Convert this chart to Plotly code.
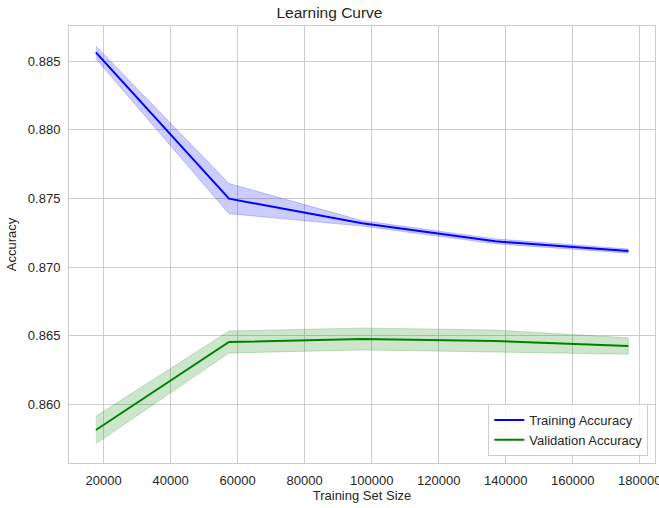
import plotly.graph_objects as go

# Data
train_sizes = [17660, 57395, 97130, 136865, 176600]
train_mean = [0.88563, 0.87498, 0.87318, 0.87187, 0.87116]
train_std = [0.00047, 0.00110, 0.00020, 0.00018, 0.00015]
val_mean = [0.85813, 0.86454, 0.86476, 0.86461, 0.86425]
val_std = [0.00100, 0.00080, 0.00080, 0.00080, 0.00060]

x_ticks = [20000, 40000, 60000, 80000, 100000, 120000, 140000, 160000, 180000]
y_ticks = [0.860, 0.865, 0.870, 0.875, 0.880, 0.885]

FONT = "Liberation Sans, Arial, sans-serif"
TXT = "#262626"
GRID = "#cccccc"


def band(x, mean, std):
    upper = [m + s for m, s in zip(mean, std)]
    lower = [m - s for m, s in zip(mean, std)]
    return list(x) + list(x)[::-1], upper + lower[::-1]


fig = go.Figure()

bx, by = band(train_sizes, train_mean, train_std)
fig.add_trace(go.Scatter(x=bx, y=by, mode="lines", fill="toself", fillcolor="rgba(0,0,255,0.2)",
                         line=dict(color="rgba(0,0,255,0.2)", width=1),
                         hoverinfo="skip", showlegend=False))
vx, vy = band(train_sizes, val_mean, val_std)
fig.add_trace(go.Scatter(x=vx, y=vy, mode="lines", fill="toself", fillcolor="rgba(0,128,0,0.2)",
                         line=dict(color="rgba(0,128,0,0.2)", width=1),
                         hoverinfo="skip", showlegend=False))

fig.add_trace(go.Scatter(x=train_sizes, y=train_mean, mode="lines",
                         line=dict(color="#0000ff", width=2), name="Training Accuracy"))
fig.add_trace(go.Scatter(x=train_sizes, y=val_mean, mode="lines",
                         line=dict(color="#008000", width=2), name="Validation Accuracy"))

fig.update_layout(
    width=659, height=508,
    margin=dict(l=69, r=4, t=26, b=45),
    paper_bgcolor="white", plot_bgcolor="white",
    font=dict(family=FONT, size=13, color=TXT),
    title=dict(text="Learning Curve", x=0.5, xanchor="center", y=0.976, yanchor="middle",
               font=dict(size=15.5, color=TXT)),
    legend=dict(x=0.9886, y=0.016, xanchor="right", yanchor="bottom",
                bgcolor="rgba(255,255,255,0.8)", bordercolor=GRID, borderwidth=1,
                font=dict(size=13, color=TXT), tracegroupgap=0),
    showlegend=True,
)

fig.update_xaxes(
    range=[9642, 184567], tickvals=x_ticks, ticktext=[str(v) for v in x_ticks],
    showgrid=True, gridcolor=GRID, gridwidth=1, zeroline=False,
    showline=True, linecolor=GRID, linewidth=1, mirror=True,
    ticks="outside", ticklen=5, tickcolor="rgba(0,0,0,0)", automargin=False,
    ticklabeloverflow="allow",
    title=dict(text="Training Set Size", font=dict(size=13, color=TXT), standoff=4),
)
fig.update_yaxes(
    range=[0.85573, 0.88755], tickvals=y_ticks, ticktext=[f"{v:.3f}" for v in y_ticks],
    showgrid=True, gridcolor=GRID, gridwidth=1, zeroline=False,
    showline=True, linecolor=GRID, linewidth=1, mirror=True,
    ticks="outside", ticklen=5, tickcolor="rgba(0,0,0,0)", automargin=False,
    title=dict(text="Accuracy", font=dict(size=13, color=TXT), standoff=8),
)

fig.write_html("out.html", config={"displayModeBar": False},
               post_script="document.body.style.margin='0';document.body.style.padding='0';")
